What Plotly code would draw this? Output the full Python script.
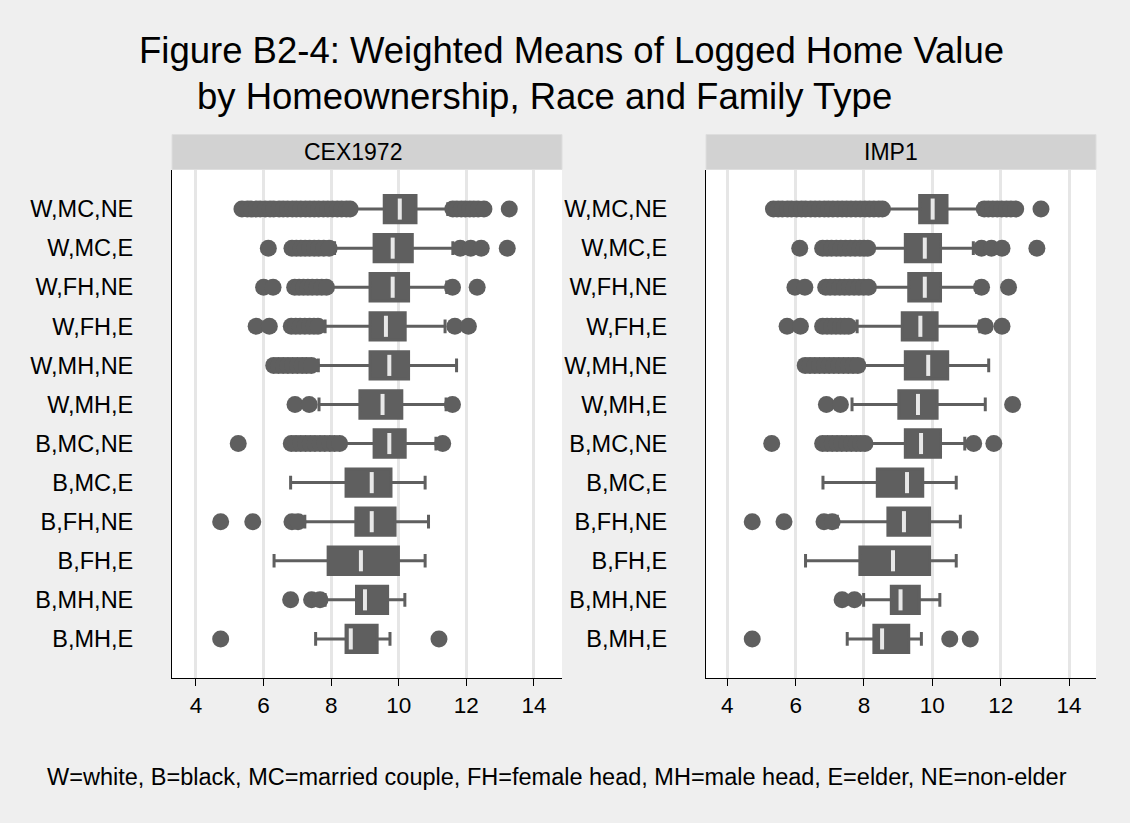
import plotly.graph_objects as go

W, H = 1130, 823

# ---------------- data ----------------
categories = ["W,MC,NE", "W,MC,E", "W,FH,NE", "W,FH,E", "W,MH,NE", "W,MH,E",
              "B,MC,NE", "B,MC,E", "B,FH,NE", "B,FH,E", "B,MH,NE", "B,MH,E"]
panels = ["CEX1972", "IMP1"]
x_ticks = [4, 6, 8, 10, 12, 14]

cex_q1 = [9.57, 9.27, 9.15, 9.15, 9.15, 8.85, 9.27, 8.44, 8.73, 7.91, 8.75, 8.44]
cex_median = [10.03, 9.82, 9.82, 9.62, 9.72, 9.52, 9.72, 9.20, 9.20, 8.88, 9.00, 8.58]
cex_q3 = [10.51, 10.40, 10.29, 10.19, 10.29, 10.09, 10.19, 9.77, 9.89, 9.99, 9.67, 9.36]
cex_low = [8.60, 8.10, 7.95, 7.82, 7.62, 7.64, 8.30, 6.80, 7.22, 6.31, 7.82, 7.54]
cex_high = [11.45, 11.60, 11.42, 11.37, 11.71, 11.40, 11.10, 10.78, 10.88, 10.78, 10.18, 9.74]
cex_outliers = [
    [5.36, 5.52, 5.63, 5.78, 5.90, 6.05, 6.19, 6.30, 6.46, 6.58, 6.71, 6.85, 6.97,
     7.10, 7.24, 7.37, 7.50, 7.63, 7.77, 7.90, 8.04, 8.18, 8.31, 8.45, 8.56,
     11.60, 11.72, 11.85, 11.97, 12.10, 12.22, 12.35, 12.52, 13.27],
    [6.14, 6.84, 6.97, 7.10, 7.23, 7.36, 7.50, 7.63, 7.78, 7.94, 11.82, 12.13, 12.44, 13.21],
    [6.00, 6.28, 6.92, 7.05, 7.18, 7.31, 7.44, 7.58, 7.72, 7.86, 11.59, 12.32],
    [5.78, 6.17, 6.82, 6.95, 7.08, 7.22, 7.36, 7.49, 7.61, 11.66, 12.06],
    [6.30, 6.44, 6.58, 6.72, 6.86, 7.00, 7.14, 7.27, 7.41],
    [6.93, 7.35, 11.59],
    [5.25, 6.82, 6.96, 7.10, 7.24, 7.38, 7.52, 7.67, 7.81, 7.96, 8.10, 8.25, 11.30],
    [],
    [4.73, 5.68, 6.84, 7.02],
    [],
    [6.80, 7.42, 7.67],
    [4.73, 11.19],
]

imp_q1 = [9.63, 9.21, 9.31, 9.12, 9.21, 9.02, 9.21, 8.39, 8.70, 7.88, 8.80, 8.29]
imp_median = [10.01, 9.78, 9.78, 9.65, 9.88, 9.58, 9.67, 9.26, 9.17, 8.85, 9.07, 8.53]
imp_q3 = [10.43, 10.24, 10.24, 10.14, 10.45, 10.14, 10.24, 9.72, 9.92, 9.92, 9.62, 9.31]
imp_low = [8.60, 8.20, 8.20, 7.80, 7.95, 7.65, 8.10, 6.80, 7.22, 6.29, 7.99, 7.51]
imp_high = [11.39, 11.20, 11.30, 11.39, 11.65, 11.55, 10.95, 10.70, 10.82, 10.70, 10.22, 9.68]
imp_outliers = [
    [5.35, 5.49, 5.61, 5.76, 5.88, 6.03, 6.17, 6.29, 6.44, 6.57, 6.70, 6.84, 6.96,
     7.09, 7.23, 7.36, 7.49, 7.62, 7.76, 7.89, 8.03, 8.16, 8.29, 8.43, 8.54,
     11.52, 11.64, 11.77, 11.90, 12.03, 12.17, 12.30, 12.44, 13.18],
    [6.12, 6.79, 6.92, 7.05, 7.19, 7.32, 7.46, 7.60, 7.74, 7.88, 8.00, 8.11,
     11.44, 11.73, 12.04, 13.06],
    [5.98, 6.27, 6.88, 7.01, 7.15, 7.29, 7.43, 7.57, 7.71, 7.85, 7.99, 8.13, 11.44, 12.23],
    [5.75, 6.14, 6.79, 6.92, 7.05, 7.18, 7.31, 7.43, 7.55, 11.55, 12.04],
    [6.28, 6.42, 6.56, 6.70, 6.84, 6.98, 7.12, 7.26, 7.40, 7.54, 7.68, 7.82],
    [6.90, 7.31, 12.35],
    [5.30, 6.79, 6.93, 7.07, 7.21, 7.35, 7.49, 7.63, 7.77, 7.90, 8.03, 11.21, 11.80],
    [],
    [4.73, 5.66, 6.83, 7.07],
    [],
    [7.36, 7.72],
    [4.73, 10.51, 11.11],
]

footnote = ("W=white, B=black, MC=married couple, FH=female head, MH=male head, "
            "E=elder, NE=non-elder")
title_lines = ["Figure B2-4: Weighted Means of Logged Home Value",
               "by Homeownership, Race and Family Type"]

# ---------------- style ----------------
FONT = "Liberation Sans, Arial, Helvetica, sans-serif"
BOX = "#5f5f5f"
MED = "#e8e8e8"
GRID = "#e6e6e6"
BG = "#efefef"
STRIP = "#d2d2d2"

positions = list(range(1, len(categories) + 1))

def px_x(p):
    return p / W

def px_y(p):
    return 1 - p / H

panel_data = [
    dict(q1=cex_q1, med=cex_median, q3=cex_q3, lo=cex_low, hi=cex_high, out=cex_outliers,
         xa="x", ya="y", dom=(172, 562), rng=[3.29, 14.83], strip_x=302),
    dict(q1=imp_q1, med=imp_median, q3=imp_q3, lo=imp_low, hi=imp_high, out=imp_outliers,
         xa="x2", ya="y2", dom=(706, 1096), rng=[3.377, 14.79], strip_x=862),
]

fig = go.Figure()
shapes = []
annotations = []

for name, pdat in zip(panels, panel_data):
    # outliers
    ox, oy = [], []
    for pos, vals in zip(positions, pdat["out"]):
        for v in vals:
            ox.append(v)
            oy.append(pos)
    fig.add_trace(go.Scatter(x=ox, y=oy, mode="markers",
                             marker=dict(size=17, color=BOX, line=dict(width=0)),
                             xaxis=pdat["xa"], yaxis=pdat["ya"],
                             showlegend=False, hoverinfo="skip"))
    # boxes from precomputed statistics
    fig.add_trace(go.Box(q1=pdat["q1"], median=pdat["med"], q3=pdat["q3"],
                         lowerfence=pdat["lo"], upperfence=pdat["hi"],
                         y=positions, orientation="h", width=0.7, whiskerwidth=0.5,
                         fillcolor=BOX, line=dict(color=BOX, width=3),
                         boxpoints=False, xaxis=pdat["xa"], yaxis=pdat["ya"],
                         showlegend=False, hoverinfo="skip"))
    # median markers
    mx, my = [], []
    for pos, m in zip(positions, pdat["med"]):
        mx += [m, m, None]
        my += [pos - 0.27, pos + 0.27, None]
    fig.add_trace(go.Scatter(x=mx, y=my, mode="lines",
                             line=dict(color=MED, width=4),
                             xaxis=pdat["xa"], yaxis=pdat["ya"],
                             showlegend=False, hoverinfo="skip"))
    # strip header
    x0, x1 = pdat["dom"]
    shapes.append(dict(type="rect", xref="paper", yref="paper",
                       x0=px_x(x0), x1=px_x(x1), y0=px_y(169.5), y1=px_y(134.5),
                       fillcolor=STRIP, line=dict(color="#dedede", width=1), layer="below"))
    annotations.append(dict(text=name, xref="paper", yref="paper",
                            x=px_x(pdat["strip_x"]), y=px_y(152), xanchor="left",
                            yanchor="middle", showarrow=False,
                            font=dict(size=23, color="black", family=FONT)))

axis_common_x = dict(tickvals=x_ticks, showgrid=True, gridcolor=GRID, gridwidth=3,
                     zeroline=False, showline=True, linecolor="black", linewidth=1,
                     ticks="outside", ticklen=7, tickcolor="black", tickwidth=1,
                     tickfont=dict(size=22.5, color="black", family=FONT),
                     automargin=False, fixedrange=True)
axis_common_y = dict(range=[13, 0], tickvals=positions, ticktext=categories,
                     showgrid=False, zeroline=False, showline=True,
                     linecolor="black", linewidth=1, ticks="",
                     tickfont=dict(size=23.5, color="black", family=FONT),
                     automargin=False, fixedrange=True, ticklabelstandoff=33,
                     domain=[px_y(678), px_y(170)])

fig.update_layout(
    template="none",
    width=W, height=H,
    margin=dict(l=0, r=0, t=0, b=0),
    paper_bgcolor=BG, plot_bgcolor="white",
    font=dict(family=FONT, color="black"),
    xaxis=dict(axis_common_x, domain=[px_x(172), px_x(562)], range=panel_data[0]["rng"], anchor="y"),
    xaxis2=dict(axis_common_x, domain=[px_x(706), px_x(1096)], range=panel_data[1]["rng"], anchor="y2"),
    yaxis=dict(axis_common_y, anchor="x"),
    yaxis2=dict(axis_common_y, anchor="x2"),
    shapes=shapes,
    showlegend=False,
)

annotations.append(dict(text=title_lines[0], xref="paper", yref="paper",
                        x=px_x(137), y=px_y(50), xanchor="left", yanchor="middle",
                        showarrow=False, font=dict(size=36.5, color="black", family=FONT)))
annotations.append(dict(text=title_lines[1], xref="paper", yref="paper",
                        x=px_x(195), y=px_y(97), xanchor="left", yanchor="middle",
                        showarrow=False, font=dict(size=36.5, color="black", family=FONT)))
annotations.append(dict(text=footnote, xref="paper", yref="paper",
                        x=px_x(45), y=px_y(777), xanchor="left", yanchor="middle",
                        showarrow=False, font=dict(size=23.5, color="black", family=FONT)))
fig.update_layout(annotations=annotations)

fig.write_html("out.html", config={"displayModeBar": False},
               post_script="document.body.style.margin='0';document.body.style.overflow='hidden';")
